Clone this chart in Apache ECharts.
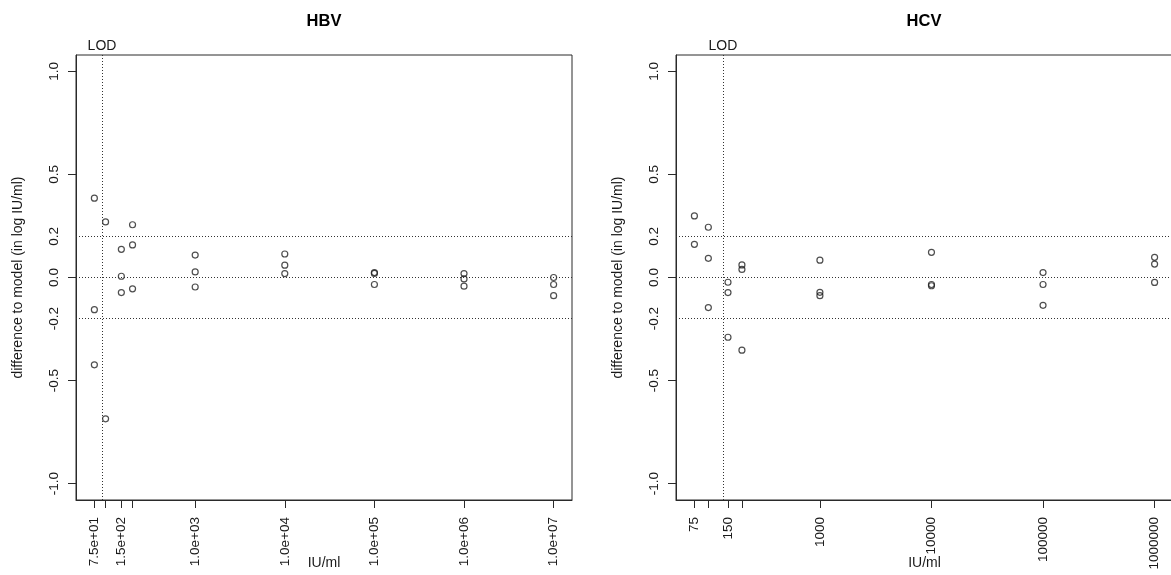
<!DOCTYPE html>
<html><head><meta charset="utf-8">
<script src="https://cdn.jsdelivr.net/npm/echarts@6/dist/echarts.min.js"></script>
<style>html,body{margin:0;padding:0;background:#fff}#c{width:1171px;height:575px}</style>
</head><body><div id="c"></div>
<script>
// ---- data ----
const titles = ['HBV', 'HCV'];
const hbvConc = [75,75,75, 100,100, 150,150,150, 200,200,200, 1000,1000,1000, 1e4,1e4,1e4, 1e5,1e5,1e5, 1e6,1e6,1e6, 1e7,1e7,1e7];
const hbvDiff = [0.385,-0.156,-0.424, 0.27,-0.686, 0.137,0.006,-0.073, 0.256,0.158,-0.055, 0.109,0.027,-0.046, 0.114,0.06,0.019, 0.024,0.02,-0.034, 0.019,-0.007,-0.042, 0.0,-0.034,-0.088];
const hcvConc = [75,75, 100,100,100, 150,150,150, 200,200,200, 1000,1000,1000, 1e4,1e4,1e4, 1e5,1e5,1e5, 1e6,1e6,1e6];
const hcvDiff = [0.299,0.161, 0.244,0.093,-0.146, -0.023,-0.073,-0.29, 0.061,0.039,-0.353, 0.084,-0.072,-0.088, 0.122,-0.034,-0.04, 0.024,-0.034,-0.135, 0.098,0.065,-0.024];
const hbvLOD = 91;
const hcvLOD = 134;
const hbvTicks = [75,100,150,200,1e3,1e4,1e5,1e6,1e7];
const hbvLabelValues = [75,150,1e3,1e4,1e5,1e6,1e7];
const hbvLabels = ['7.5e+01','1.5e+02','1.0e+03','1.0e+04','1.0e+05','1.0e+06','1.0e+07'];
const hcvTicks = [75,100,150,200,1e3,1e4,1e5,1e6];
const hcvLabelValues = [75,150,1e3,1e4,1e5,1e6];
const hcvLabels = ['75','150','1000','10000','100000','1000000'];
const yTicks = [-1,-0.5,0,0.5,1];
const yLabelValues = [-1,-0.5,-0.2,0,0.2,0.5,1];
const yLabels = ['-1.0','-0.5','-0.2','0.0','0.2','0.5','1.0'];
const refLines = [-0.2, 0, 0.2];
const yLimits = [-1, 1];
const xName = 'IU/ml';
const yName = 'difference to model (in log IU/ml)';

// ---- build ----
const FONT = 'Liberation Sans, Arial, sans-serif';
const INK = '#1a1a1a';
const LINE = '#2a2a2a';
const lg = Math.log10;
function rExt(lo, hi) { const p = 0.04 * (hi - lo); return [lo - p, hi + p]; }

const panels = [
  { conc: hbvConc, diff: hbvDiff, lod: hbvLOD, ticks: hbvTicks, lv: hbvLabelValues, lb: hbvLabels, left: 76, width: 496 },
  { conc: hcvConc, diff: hcvDiff, lod: hcvLOD, ticks: hcvTicks, lv: hcvLabelValues, lb: hcvLabels, left: 676, width: 497 }
];
const yr = rExt(yLimits[0], yLimits[1]);

const option = {
  animation: false,
  backgroundColor: '#fff',
  textStyle: { fontFamily: FONT },
  title: panels.map((p, i) => ({
    text: titles[i], left: p.left + 248, top: 13, padding: 0, textAlign: 'center',
    textStyle: { fontFamily: FONT, fontSize: 16.5, fontWeight: 'bold', color: '#000' }
  })),
  grid: panels.map(p => ({
    left: p.left, top: 55, width: p.width, height: 445, show: true,
    borderColor: LINE, borderWidth: 1, backgroundColor: 'transparent',
    containLabel: false, outerBoundsMode: 'none'
  })),
  xAxis: panels.map((p, i) => {
    const xs = p.conc.map(lg);
    const ext = rExt(Math.min(...xs), Math.max(...xs));
    return {
      type: 'value', gridIndex: i, min: ext[0], max: ext[1],
      name: xName, nameLocation: 'middle', nameGap: 56, nameMoveOverlap: false,
      nameTextStyle: { fontFamily: FONT, fontSize: 14, color: INK },
      axisLine: { show: true, onZero: false, lineStyle: { color: LINE, width: 1 } },
      axisTick: { show: true, inside: false, length: 8, lineStyle: { color: LINE }, customValues: p.ticks.map(lg) },
      axisLabel: {
        show: true, rotate: 90, margin: 17, fontSize: 13.5, color: INK, fontFamily: FONT,
        customValues: p.lv.map(lg),
        formatter: v => { const k = p.lv.findIndex(t => Math.abs(lg(t) - v) < 1e-6); return k >= 0 ? p.lb[k] : ''; }
      },
      splitLine: { show: false }
    };
  }),
  yAxis: panels.map((p, i) => ({
    type: 'value', gridIndex: i, min: yr[0], max: yr[1],
    name: yName, nameLocation: 'middle', nameGap: 51, nameRotate: 90, nameMoveOverlap: false,
    nameTextStyle: { fontFamily: FONT, fontSize: 14, color: INK },
    axisLine: { show: true, onZero: false, lineStyle: { color: LINE, width: 1 } },
    axisTick: { show: true, inside: false, length: 8, lineStyle: { color: LINE }, customValues: yTicks },
    axisLabel: {
      show: true, rotate: 90, margin: 15, fontSize: 13.5, color: INK, fontFamily: FONT,
      customValues: yLabelValues,
      formatter: v => { const k = yLabelValues.findIndex(t => Math.abs(t - v) < 1e-6); return k >= 0 ? yLabels[k] : ''; }
    },
    splitLine: { show: false }
  })),
  series: panels.map((p, i) => ({
    type: 'scatter', xAxisIndex: i, yAxisIndex: i,
    data: p.conc.map((c, j) => [lg(c), p.diff[j]]),
    symbol: 'circle', symbolSize: 6,
    itemStyle: { color: 'rgba(0,0,0,0)', borderColor: '#222', borderWidth: 1.2 },
    markLine: {
      silent: true, symbol: ['none', 'none'], animation: false,
      lineStyle: { type: [1, 2], color: '#333', width: 1 },
      label: { show: false },
      data: refLines.map(v => ({ yAxis: v })).concat([{
        xAxis: lg(p.lod),
        label: { show: true, position: 'end', formatter: 'LOD', distance: 2, fontSize: 14, color: INK, fontFamily: FONT }
      }])
    }
  }))
};

const chart = echarts.init(document.getElementById('c'), null, { renderer: 'canvas' });
chart.setOption(option);
</script>
</body></html>
